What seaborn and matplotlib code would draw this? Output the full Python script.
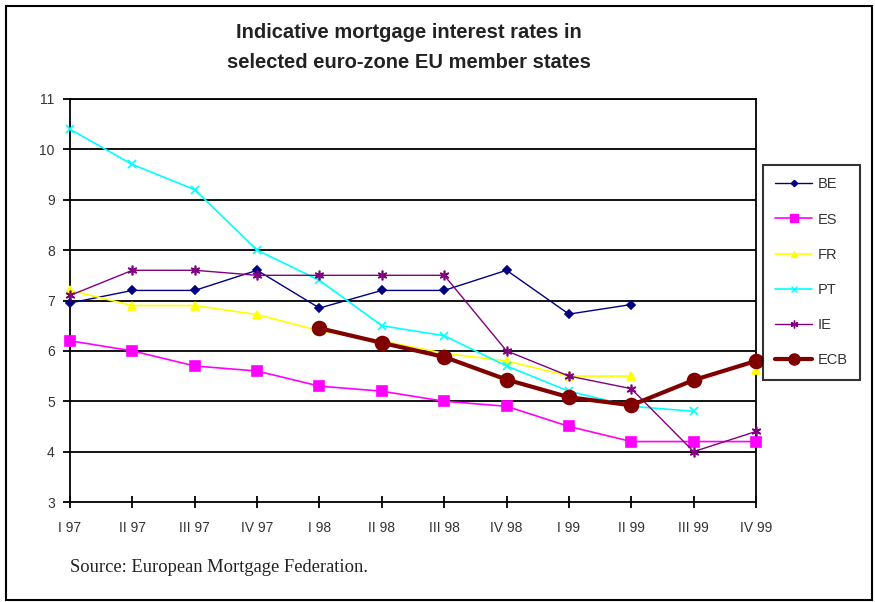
import numpy as np
import pandas as pd
import matplotlib
matplotlib.use("Agg")
import matplotlib.pyplot as plt
from matplotlib.lines import Line2D
from matplotlib.patches import Rectangle
import seaborn as sns

quarters = ["I 97", "II 97", "III 97", "IV 97", "I 98", "II 98", "III 98", "IV 98",
            "I 99", "II 99", "III 99", "IV 99"]
nan = np.nan
BE = [6.95, 7.2, 7.2, 7.6, 6.85, 7.2, 7.2, 7.6, 6.73, 6.92, nan, nan]
ES = [6.2, 6.0, 5.7, 5.6, 5.3, 5.2, 5.0, 4.9, 4.5, 4.2, 4.2, 4.2]
FR = [7.2, 6.9, 6.9, 6.72, 6.4, 6.2, 5.95, 5.8, 5.5, 5.5, nan, 5.62]
PT = [10.4, 9.7, 9.2, 8.0, 7.4, 6.5, 6.3, 5.7, 5.2, 4.9, 4.8, nan]
IE = [7.1, 7.6, 7.6, 7.5, 7.5, 7.5, 7.5, 6.0, 5.5, 5.25, 4.0, 4.4]
ECB = [nan, nan, nan, nan, 6.45, 6.16, 5.88, 5.43, 5.08, 4.92, 5.42, 5.8]

series = {"BE": BE, "ES": ES, "FR": FR, "PT": PT, "IE": IE, "ECB": ECB}
styles = {
    "BE": dict(color="#000080", marker="D", ms=4, lw=1.0),
    "ES": dict(color="#FF00FF", marker="s", ms=7, lw=1.2),
    "FR": dict(color="#FFFF00", marker="^", ms=6, lw=1.2),
    "PT": dict(color="#00FFFF", marker="x", ms=6, lw=1.2),
    "IE": dict(color="#800080", marker=(6, 2, 0), ms=7, lw=1.0),
    "ECB": dict(color="#800000", marker="o", ms=10, lw=3.0),
}

sns.set_theme(style="white")
plt.rcParams['font.family'] = ['Liberation Sans', 'DejaVu Sans']

fig = plt.figure(figsize=(8.75, 6.02), dpi=100)
W, H = 875, 602
ax = fig.add_axes([70 / W, 1 - 502 / H, (756 - 70) / W, (502 - 99) / H])

x = np.arange(len(quarters))
for name, vals in series.items():
    st = styles[name]
    df = pd.DataFrame({"x": x, "y": vals})
    # split into contiguous runs so gaps are not bridged
    grp = df["y"].isna().cumsum()
    for _, seg in df[df["y"].notna()].groupby(grp[df["y"].notna()]):
        sns.lineplot(data=seg, x="x", y="y", ax=ax, color=st["color"], lw=st["lw"],
                     marker=st["marker"], markersize=st["ms"],
                     markeredgecolor=st["color"], markerfacecolor=st["color"],
                     markeredgewidth=1.2, zorder=5 if name == "ECB" else 3,
                     legend=False, clip_on=False)

ax.set_xlim(0, len(quarters) - 1)
ax.set_ylim(3, 11)
ax.set_yticks(range(3, 12))
ax.set_xticks(x)
ax.set_xticklabels(quarters)
ax.set_xlabel("")
ax.set_ylabel("")
for yv in range(4, 12):
    ax.axhline(yv, color="black", lw=1.3, zorder=1)
for s in ["left", "right", "bottom", "top"]:
    ax.spines[s].set_visible(True)
    ax.spines[s].set_color("black")
    ax.spines[s].set_linewidth(1.3)
ax.tick_params(axis="x", direction="inout", length=8, width=1.3, colors="black",
               labelsize=10, labelcolor="#333333", pad=10, bottom=True)
ax.tick_params(axis="y", direction="out", length=5, width=1.3, colors="black",
               labelsize=10, labelcolor="#333333", left=True, pad=6)
ax.grid(False)

handles = [Line2D([0], [0], color=styles[n]["color"], lw=styles[n]["lw"],
                  marker=styles[n]["marker"], markersize=styles[n]["ms"] * 0.8,
                  markerfacecolor=styles[n]["color"], markeredgecolor=styles[n]["color"])
           for n in series]
leg = fig.legend(handles, list(series.keys()), loc="upper left",
                 bbox_to_anchor=(763 / W, 1 - 165 / H), frameon=True, fancybox=False,
                 edgecolor="black", fontsize=10.5, labelspacing=1.45, handlelength=2.5,
                 borderpad=0.85, handletextpad=0.4, borderaxespad=0)
leg.get_frame().set_linewidth(1.5)
for t in leg.get_texts():
    t.set_color("#333333")

fig.text(409 / W, 1 - 33 / H, "Indicative mortgage interest rates in", ha="center",
         va="center", fontsize=14.5, fontweight="bold", color="#222222")
fig.text(409 / W, 1 - 63 / H, "selected euro-zone EU member states", ha="center",
         va="center", fontsize=14.5, fontweight="bold", color="#222222")
fig.text(70 / W, 1 - 567 / H, "Source: European Mortgage Federation.", ha="left",
         va="center", fontsize=13.3, family=["Liberation Serif", "DejaVu Serif"],
         color="#222222")

fig.patches.append(Rectangle((6 / W, 1 - 600 / H), (872 - 6) / W, (600 - 6) / H,
                             transform=fig.transFigure, fill=False, edgecolor="black",
                             lw=1.5))

fig.savefig("out.png", dpi=100)
